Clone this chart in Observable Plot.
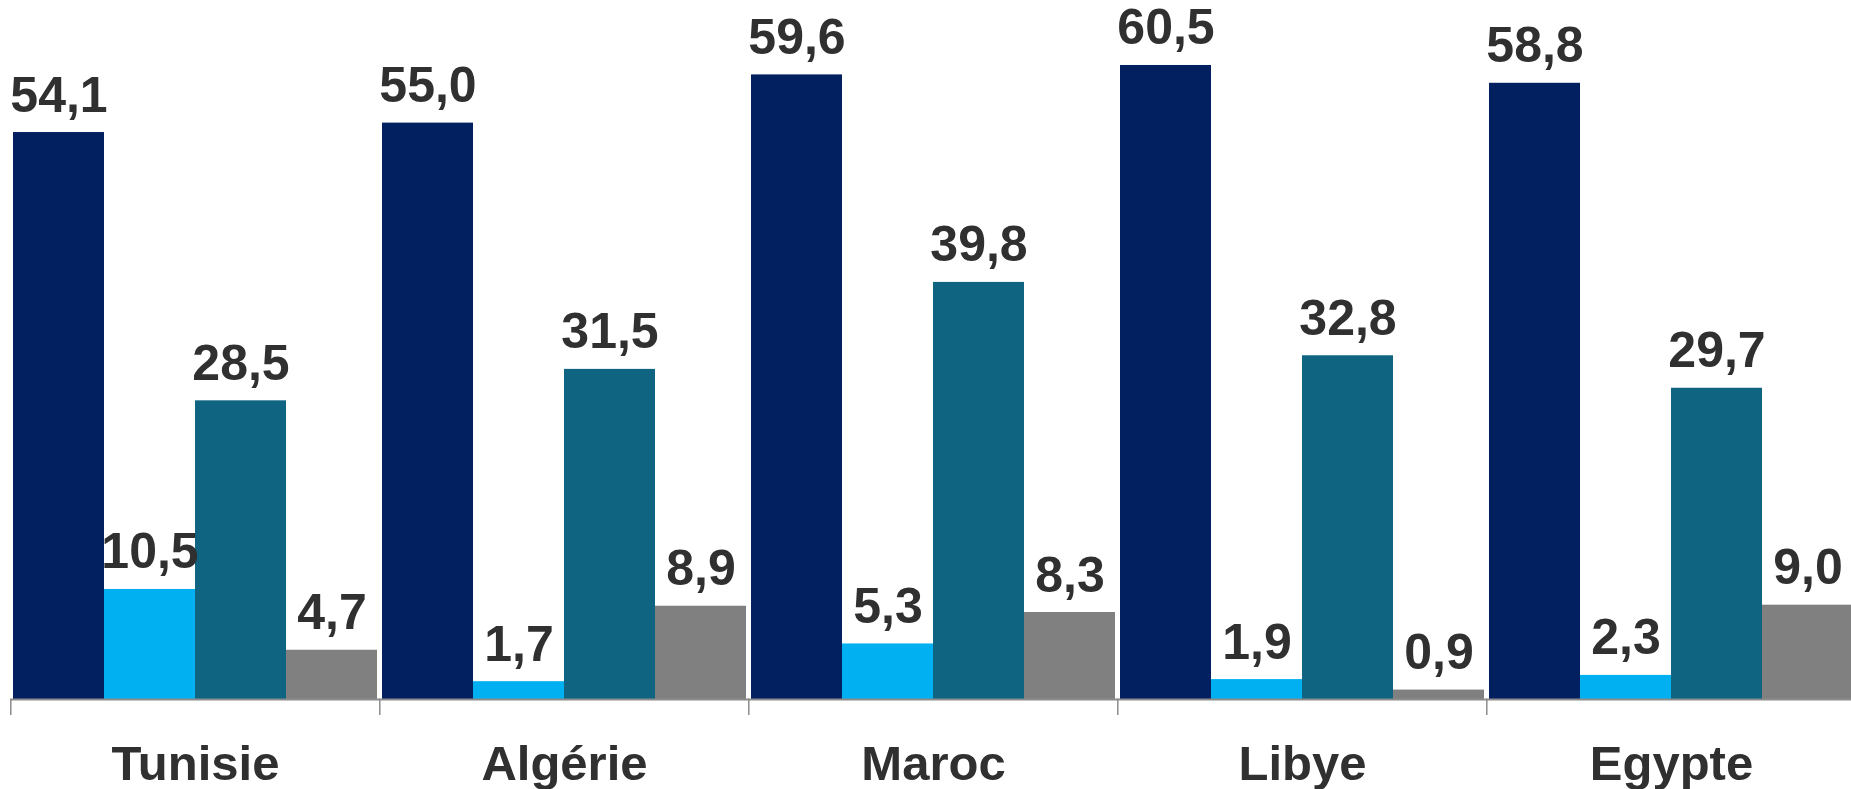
<!DOCTYPE html>
<html>
<head>
<meta charset="utf-8">
<script src="https://cdn.jsdelivr.net/npm/d3@7"></script>
<script src="https://cdn.jsdelivr.net/npm/@observablehq/plot@0.6"></script>
<style>
  html, body { margin: 0; padding: 0; background: #ffffff; overflow: hidden; }
  #chart svg { max-width: none !important; display: block; }
</style>
</head>
<body>
<div id="chart"></div>
<script>
const countries = ["Tunisie", "Algérie", "Maroc", "Libye", "Egypte"];
const seriesNames = ["Série 1", "Série 2", "Série 3", "Série 4"];
const serie1 = [54.1, 55.0, 59.6, 60.5, 58.8];
const serie2 = [10.5, 1.7, 5.3, 1.9, 2.3];
const serie3 = [28.5, 31.5, 39.8, 32.8, 29.7];
const serie4 = [4.7, 8.9, 8.3, 0.9, 9.0];
const seriesColors = ["#02205f", "#00b0f0", "#0e6481", "#808080"];

const allSeries = [serie1, serie2, serie3, serie4];
const rows = [];
countries.forEach((c, ci) => {
  seriesNames.forEach((s, si) => {
    rows.push({country: c, series: s, value: allSeries[si][ci]});
  });
});

const fmt = v => v.toFixed(1).replace(".", ",");

const W = 1857, H = 789, ML = 10, MR = 0, MT = 0, MB = 90;
const gap = 0.0125;
const step = (W - ML - MR) / countries.length;
const textColor = "#303030";
const axisColor = "#8c8c8c";

const chart = Plot.plot({
  width: W,
  height: H,
  marginLeft: ML,
  marginRight: MR,
  marginTop: MT,
  marginBottom: MB,
  style: {fontFamily: "'Liberation Sans Narrow', 'Liberation Sans', sans-serif", fontWeight: "bold", color: textColor, background: "#ffffff"},
  fx: {domain: countries, paddingInner: gap, paddingOuter: gap / 2, label: null},
  x: {domain: seriesNames, padding: 0, axis: null},
  y: {domain: [0, 66.7], axis: null},
  color: {domain: seriesNames, range: seriesColors},
  marks: [
    Plot.barY(rows, {fx: "country", x: "series", y: "value", fill: "series"}),
    Plot.text(rows, {fx: "country", x: "series", y: "value", text: d => fmt(d.value), dy: -21, lineAnchor: "bottom", fontSize: 50, fontWeight: "bold", fill: textColor}),
    Plot.ruleY([0], {stroke: axisColor, strokeWidth: 2, insetLeft: -3, insetRight: -3}),
    Plot.axisFx({anchor: "bottom", tickSize: 16, tickFormat: () => "", dx: -step / 2, stroke: axisColor, strokeWidth: 1.5, label: null}),
    Plot.axisFx({anchor: "bottom", tickSize: 0, tickPadding: 46, fontSize: 49, fontWeight: "bold", fill: textColor, label: null})
  ]
});
chart.style.maxWidth = "none";
document.getElementById("chart").appendChild(chart);
</script>
</body>
</html>
